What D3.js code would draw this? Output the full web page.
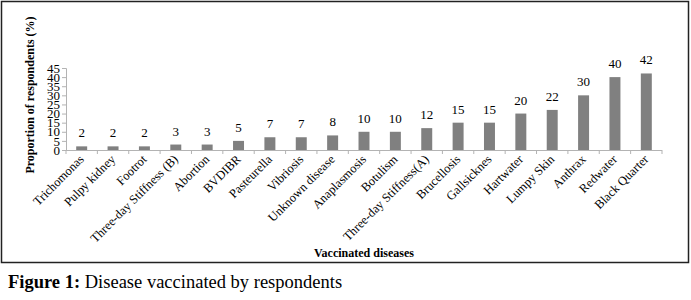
<!DOCTYPE html>
<html>
<head>
<meta charset="utf-8">
<script src="https://cdn.jsdelivr.net/npm/d3@7"></script>
<style>
  body { margin: 0; background: white; }
  svg text { font-family: "Liberation Serif", "Times New Roman", serif; }
</style>
</head>
<body>
<div id="container"></div>
<script>
let diseases = ["Trichomonas", "Pulpy kidney", "Footrot", "Three-day Stiffness (B)", "Abortion",
  "BVDIBR", "Pasteurella", "Vibriosis", "Unknown disease", "Anaplasmosis", "Botulism",
  "Three-day Stiffness(A)", "Brucellosis", "Gallsicknes", "Hartwater", "Lumpy Skin",
  "Anthrax", "Redwater", "Black Quarter"];
let percents = [2, 2, 2, 3, 3, 5, 7, 7, 8, 10, 10, 12, 15, 15, 20, 22, 30, 40, 42];
let yTicks = [0, 5, 10, 15, 20, 25, 30, 35, 40, 45];

let yTitle = "Proportion of respondents (%)";
let xTitle = "Vaccinated diseases";

let w = 691;
let h = 300;

let viz = d3.select("#container")
  .append("svg")
    .attr("width", w)
    .attr("height", h)
    .attr("font-family", "Liberation Serif")
    .style("background-color", "white")
;

// frame round the chart
viz.append("rect")
    .attr("x", 1.5)
    .attr("y", 1.5)
    .attr("width", 687)
    .attr("height", 261)
    .attr("fill", "none")
    .attr("stroke", "#222")
    .attr("stroke-width", 1.5)
;

let xScale = d3.scaleBand().domain(diseases).range([66, 662]).paddingInner(0.65).paddingOuter(0.325);
let yScale = d3.scaleLinear().domain([0, 45]).range([150, 68]);

let axisColor = "#b3b3b3";

// y axis
let yAxis = viz.append("g")
    .attr("transform", "translate(66,0)")
    .call(d3.axisLeft(yScale).tickValues(yTicks).tickSize(4).tickPadding(2));
yAxis.attr("font-family", "Liberation Serif");
yAxis.select(".domain").attr("stroke", axisColor);
yAxis.selectAll(".tick line").attr("stroke", axisColor);
yAxis.selectAll(".tick text")
    .attr("fill", "black")
    .style("font-size", "13px");

// x axis line with ticks at category edges
viz.append("line")
    .attr("x1", 66).attr("x2", 662)
    .attr("y1", 150.5).attr("y2", 150.5)
    .attr("stroke", axisColor);

let step = xScale.step();
let edges = d3.range(diseases.length + 1).map(function(i){ return 66 + i * step; });
viz.selectAll(".xtick").data(edges).enter()
  .append("line")
    .classed("xtick", true)
    .attr("x1", function(d){ return d; })
    .attr("x2", function(d){ return d; })
    .attr("y1", 150)
    .attr("y2", 154)
    .attr("stroke", axisColor)
;

// bars
viz.selectAll(".bar").data(percents).enter()
  .append("rect")
    .classed("bar", true)
    .attr("x", function(d, i){ return xScale(diseases[i]); })
    .attr("y", function(d){ return yScale(d); })
    .attr("width", xScale.bandwidth())
    .attr("height", function(d){ return yScale(0) - yScale(d); })
    .attr("fill", "#808080")
;

// value labels
viz.selectAll(".val").data(percents).enter()
  .append("text")
    .classed("val", true)
    .text(function(d){ return d; })
    .attr("x", function(d, i){ return xScale(diseases[i]) + xScale.bandwidth() / 2; })
    .attr("y", function(d){ return yScale(d) - 9; })
    .attr("text-anchor", "middle")
    .style("font-size", "13px")
;

// category labels, slanted
viz.selectAll(".cat").data(diseases).enter()
  .append("text")
    .classed("cat", true)
    .text(function(d){ return d; })
    .attr("text-anchor", "end")
    .attr("transform", function(d){
      return "translate(" + (xScale(d) + xScale.bandwidth() / 2 + 3) + ",160) rotate(-45)";
    })
    .style("font-size", "12.5px")
;

// axis titles
viz.append("text")
    .text(yTitle)
    .attr("text-anchor", "middle")
    .attr("transform", "translate(34,95) rotate(-90)")
    .style("font-size", "12px")
    .style("font-weight", "bold")
;

viz.append("text")
    .text(xTitle)
    .attr("x", 364)
    .attr("y", 257)
    .attr("text-anchor", "middle")
    .style("font-size", "12px")
    .style("font-weight", "bold")
;

// caption below the frame
let caption = viz.append("text")
    .attr("x", 8)
    .attr("y", 288)
    .style("font-size", "18.5px")
;
caption.append("tspan").text("Figure 1:").style("font-weight", "bold");
caption.append("tspan").text(" Disease vaccinated by respondents");
</script>
</body>
</html>
